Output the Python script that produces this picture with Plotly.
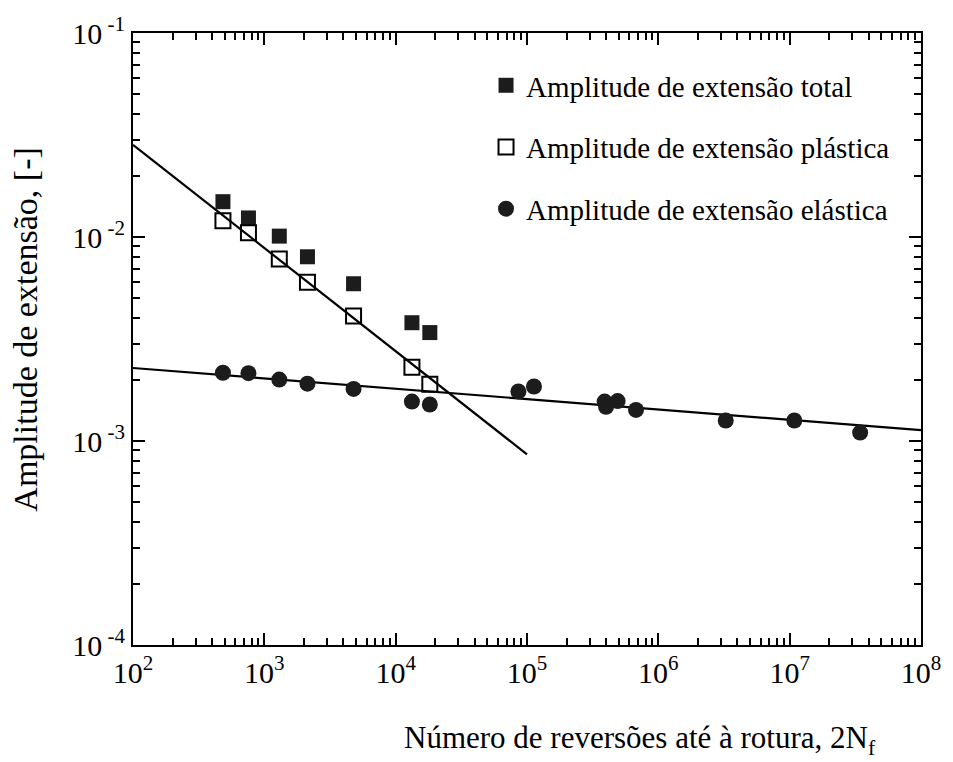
import math
import plotly.graph_objects as go

# ---- data ----
total_x = [484, 757, 1300, 2130, 4780, 13300, 18200]
total_y = [0.0149, 0.0124, 0.0101, 0.0080, 0.0059, 0.0038, 0.0034]

plastic_x = [484, 757, 1300, 2130, 4780, 13300, 18200]
plastic_y = [0.0120, 0.0105, 0.0078, 0.0060, 0.0041, 0.0023, 0.0019]

elastic_x = [484, 757, 1300, 2130, 4780, 13300, 18200, 86000, 113000,
             390000, 400000, 490000, 676000, 3260000, 10850000, 34400000]
elastic_y = [0.00216, 0.00215, 0.00200, 0.00191, 0.00180, 0.00156, 0.00151,
             0.00175, 0.00185, 0.00156, 0.00147, 0.00157, 0.00142, 0.00126,
             0.00126, 0.00110]

plastic_fit_x = [1e2, 1e5]
plastic_fit_y = [0.0283, 0.00086]
elastic_fit_x = [1e2, 1e8]
elastic_fit_y = [0.00228, 0.00113]

legend_names = ["Amplitude de extensão total",
                "Amplitude de extensão plástica",
                "Amplitude de extensão elástica"]

x_decades = [2, 3, 4, 5, 6, 7, 8]
x_ticktext = ["10<sup>2</sup>", "10<sup>3</sup>", "10<sup>4</sup>", "10<sup>5</sup>",
              "10<sup>6</sup>", "10<sup>7</sup>", "10<sup>8</sup>"]
y_decades = [-4, -3, -2, -1]
y_ticktext = ["10<sup> -4</sup>", "10<sup> -3</sup>", "10<sup> -2</sup>", "10<sup> -1</sup>"]
minor_digits = [2, 3, 4, 5, 6, 7, 8, 9]

x_title = "Número de reversões até à rotura, 2N<sub>f</sub>"
y_title = "Amplitude de extensão, [-]"

FONT = "Liberation Serif, Times New Roman, serif"
INK = "#1c1c1c"

x_tickvals = [10.0 ** d for d in x_decades]
y_tickvals = [10.0 ** d for d in y_decades]
x_minor = [m * 10.0 ** d for d in x_decades[:-1] for m in minor_digits]
y_minor = [m * 10.0 ** d for d in y_decades[:-1] for m in minor_digits]

PLOT_W, PLOT_H = 797, 616

fig = go.Figure()
fig.add_trace(go.Scatter(x=plastic_fit_x, y=plastic_fit_y, mode="lines",
                         line=dict(color="black", width=2.2), showlegend=False,
                         hoverinfo="skip"))
fig.add_trace(go.Scatter(x=elastic_fit_x, y=elastic_fit_y, mode="lines",
                         line=dict(color="black", width=2.2), showlegend=False,
                         hoverinfo="skip"))
fig.add_trace(go.Scatter(x=total_x, y=total_y, mode="markers", name=legend_names[0],
                         legendgroup="a",
                         marker=dict(symbol="square", size=15, color=INK,
                                     line=dict(width=0))))
fig.add_trace(go.Scatter(x=plastic_x, y=plastic_y, mode="markers", name=legend_names[1],
                         legendgroup="b",
                         marker=dict(symbol="square-open", size=15, color="black",
                                     line=dict(width=2, color="black"))))
fig.add_trace(go.Scatter(x=elastic_x, y=elastic_y, mode="markers", name=legend_names[2],
                         legendgroup="c",
                         marker=dict(symbol="circle", size=16, color=INK,
                                     line=dict(width=0))))

axis_common = dict(showgrid=False, zeroline=False, showline=True, linecolor="black",
                   linewidth=2, mirror="allticks", ticks="inside",
                   tickcolor="black", tickmode="array",
                   tickfont=dict(family=FONT, size=30, color="black"))

# Major axes carry the decade labels; long ticks
fig.update_xaxes(type="log", range=[x_decades[0], x_decades[-1]], tickvals=x_tickvals,
                 ticktext=x_ticktext, ticklen=12, tickwidth=2, **axis_common)
fig.update_yaxes(type="log", range=[y_decades[0], y_decades[-1]], tickvals=y_tickvals,
                 ticktext=y_ticktext, ticklen=12, tickwidth=2, **axis_common)

# Overlay axes carry the minor (unlabelled) ticks
minor_axis = dict(showgrid=False, zeroline=False, showline=False, ticks="inside",
                  ticklen=7, tickwidth=1.8, tickcolor="black", tickmode="array",
                  showticklabels=False, mirror="allticks")
fig.update_layout(
    xaxis2=dict(type="log", range=[x_decades[0], x_decades[-1]], overlaying="x",
                side="bottom", anchor="y", tickvals=x_minor, **minor_axis),
    yaxis2=dict(type="log", range=[y_decades[0], y_decades[-1]], overlaying="y",
                side="left", anchor="x", tickvals=y_minor, **minor_axis),
)
fig.add_trace(go.Scatter(x=[x_tickvals[0]], y=[y_tickvals[0]], xaxis="x2", yaxis="y2",
                         mode="markers", marker=dict(opacity=0), showlegend=False,
                         hoverinfo="skip"))

fig.add_annotation(text=x_title, xref="paper", yref="paper", x=0.643, y=-0.155,
                   xanchor="center", yanchor="middle", showarrow=False,
                   font=dict(family=FONT, size=31, color="black"))
fig.add_annotation(text=y_title, xref="paper", yref="paper", x=-0.136, y=0.515,
                   xanchor="center", yanchor="middle", showarrow=False, textangle=-90,
                   font=dict(family=FONT, size=34, color="black"))

fig.update_layout(
    width=953, height=762,
    margin=dict(l=133, r=23, t=29, b=117),
    paper_bgcolor="white", plot_bgcolor="white",
    showlegend=True,
    legend=dict(x=0.448, y=0.956, xanchor="left", yanchor="top",
                bgcolor="rgba(0,0,0,0)", tracegroupgap=21,
                font=dict(family=FONT, size=29, color="black"),
                itemsizing="trace"),
)

fig.write_html("out.html")
